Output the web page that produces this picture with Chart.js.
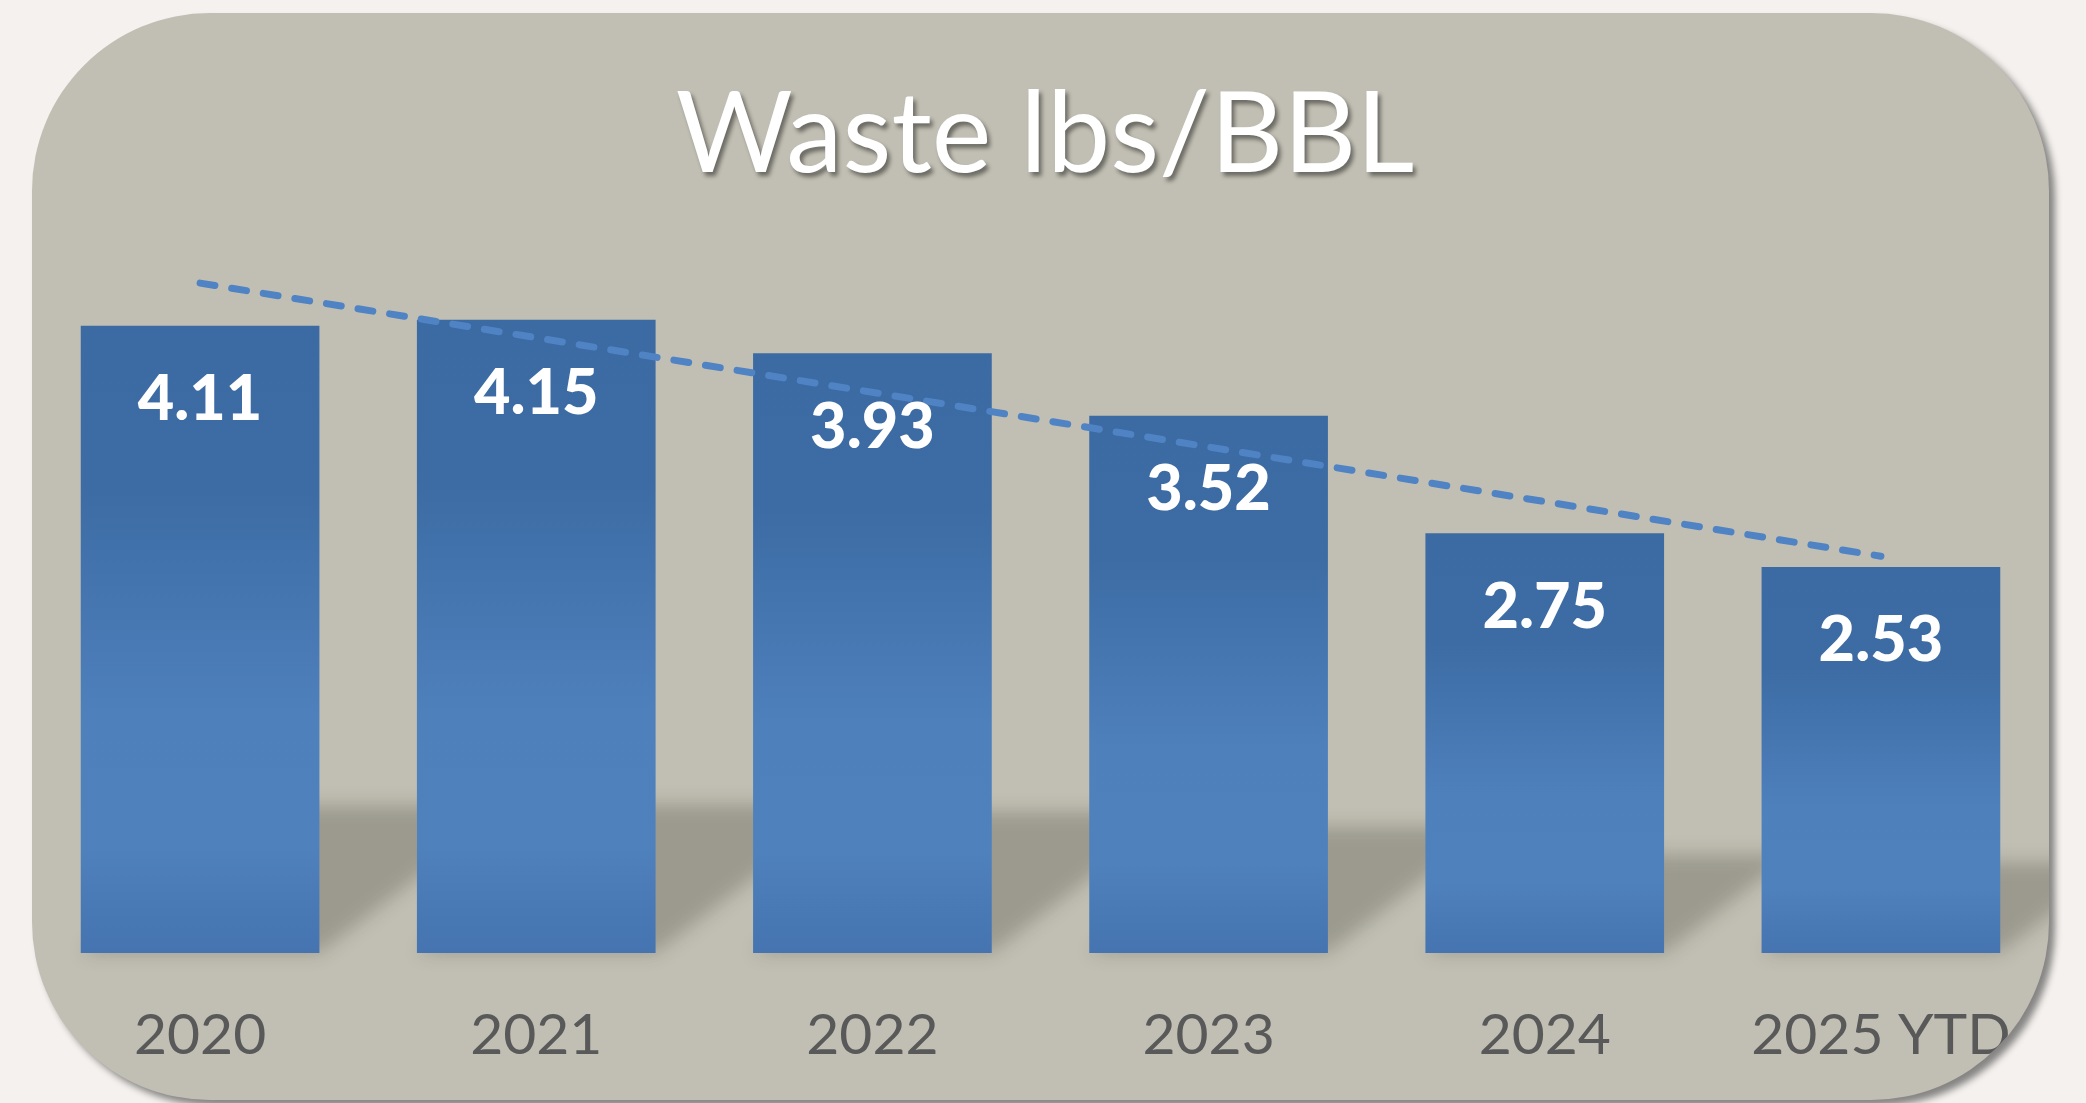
<!DOCTYPE html>
<html>
<head>
<meta charset="utf-8">
<script src="https://cdn.jsdelivr.net/npm/chart.js@4.4.1/dist/chart.umd.min.js"></script>
<style>
  html, body { margin: 0; padding: 0; background: #f4f1ee; }
  body { width: 2086px; height: 1103px; position: relative; overflow: hidden; }
  #panel {
    position: absolute; left: 32px; top: 13px; width: 2017px; height: 1087px;
    background: #c1bfb3; border-radius: 178px;
    box-shadow: 6px 6px 7px rgba(0,0,0,0.45);
    overflow: hidden;
  }
  #title {
    position: absolute; left: 9px; right: 0; top: 47px;
    text-align: center; font-family: Lato, sans-serif; font-size: 113px; line-height: 136px;
    color: #ffffff; text-shadow: 3px 4px 4px rgba(0,0,0,0.45);
  }
  #wrap { position: absolute; left: 0; top: 0; width: 2017px; height: 1087px; }
</style>
</head>
<body>
<div id="panel">
  <div id="wrap"><canvas id="myChart"></canvas></div>
  <div id="title">Waste lbs/BBL</div>
</div>
<script>
const years = ['2020', '2021', '2022', '2023', '2024', '2025 YTD'];
const wasteLbsPerBbl = [4.11, 4.15, 3.93, 3.52, 2.75, 2.53];
// dashed trend line, ends
const trendLine = [4.39, null, null, null, null, 2.60];

function barGradient(context) {
  const chart = context.chart;
  if (!chart.chartArea) return '#4f81bd';
  const yScale = chart.scales.y;
  const top = yScale.getPixelForValue(context.raw);
  const base = yScale.getPixelForValue(0);
  const g = chart.ctx.createLinearGradient(0, top, 0, base);
  g.addColorStop(0, '#3c6aa2');
  g.addColorStop(0.26, '#3d6ca4');
  g.addColorStop(0.62, '#4e80bc');
  g.addColorStop(0.83, '#4f81bc');
  g.addColorStop(1, '#4574b0');
  return g;
}

// perspective shadow behind the bars
const barShadow = {
  id: 'barShadow',
  beforeDatasetsDraw(chart) {
    const meta = chart.getDatasetMeta(1);
    const ctx = chart.ctx;
    ctx.save();
    ctx.filter = 'blur(9px)';
    ctx.fillStyle = 'rgba(20,18,10,0.21)';
    ctx.beginPath();
    meta.data.forEach(function(bar) {
      const left = bar.x - bar.width / 2;
      const right = bar.x + bar.width / 2;
      const h = (bar.base - bar.y) * 0.235;
      const shift = h * 1.3;
      ctx.moveTo(left, bar.base);
      ctx.lineTo(right, bar.base);
      ctx.lineTo(right + shift, bar.base - h);
      ctx.lineTo(left + shift, bar.base - h);
      ctx.closePath();
    });
    ctx.fill();
    ctx.restore();
  }
};

const valueLabels = {
  id: 'valueLabels',
  afterDatasetsDraw(chart) {
    const meta = chart.getDatasetMeta(1);
    const ctx = chart.ctx;
    ctx.save();
    ctx.font = '900 63px Lato';
    ctx.fillStyle = '#ffffff';
    ctx.textAlign = 'center';
    ctx.textBaseline = 'middle';
    meta.data.forEach(function(bar, i) {
      ctx.fillText(wasteLbsPerBbl[i].toFixed(2), bar.x, bar.y + 74);
    });
    ctx.restore();
  }
};

const ctx = document.getElementById('myChart');
new Chart(ctx, {
  data: {
    labels: years,
    datasets: [{
      type: 'line',
      label: 'Trend',
      data: trendLine,
      spanGaps: true,
      borderColor: '#4f83c4',
      borderWidth: 7,
      borderDash: [15, 17],
      borderCapStyle: 'round',
      pointRadius: 0,
      fill: false,
      order: 0
    }, {
      type: 'bar',
      label: 'Waste lbs/BBL',
      data: wasteLbsPerBbl,
      backgroundColor: barGradient,
      borderWidth: 0,
      barPercentage: 0.71,
      categoryPercentage: 1,
      order: 1
    }]
  },
  options: {
    responsive: true,
    maintainAspectRatio: false,
    animation: false,
    devicePixelRatio: 1,
    layout: { padding: { top: 177, left: 0, right: 0, bottom: 0 } },
    scales: {
      x: {
        grid: { display: false, drawTicks: true, tickLength: 48 },
        border: { display: false },
        ticks: {
          color: '#595959',
          font: { family: 'Lato', size: 57 },
          padding: 0,
          maxRotation: 0,
          autoSkip: false
        },
        afterFit: function(scale) { scale.height = 147; }
      },
      y: {
        display: false,
        min: 0,
        max: 5
      }
    },
    plugins: {
      legend: { display: false },
      tooltip: { enabled: false }
    }
  },
  plugins: [barShadow, valueLabels]
});
</script>
</body>
</html>
